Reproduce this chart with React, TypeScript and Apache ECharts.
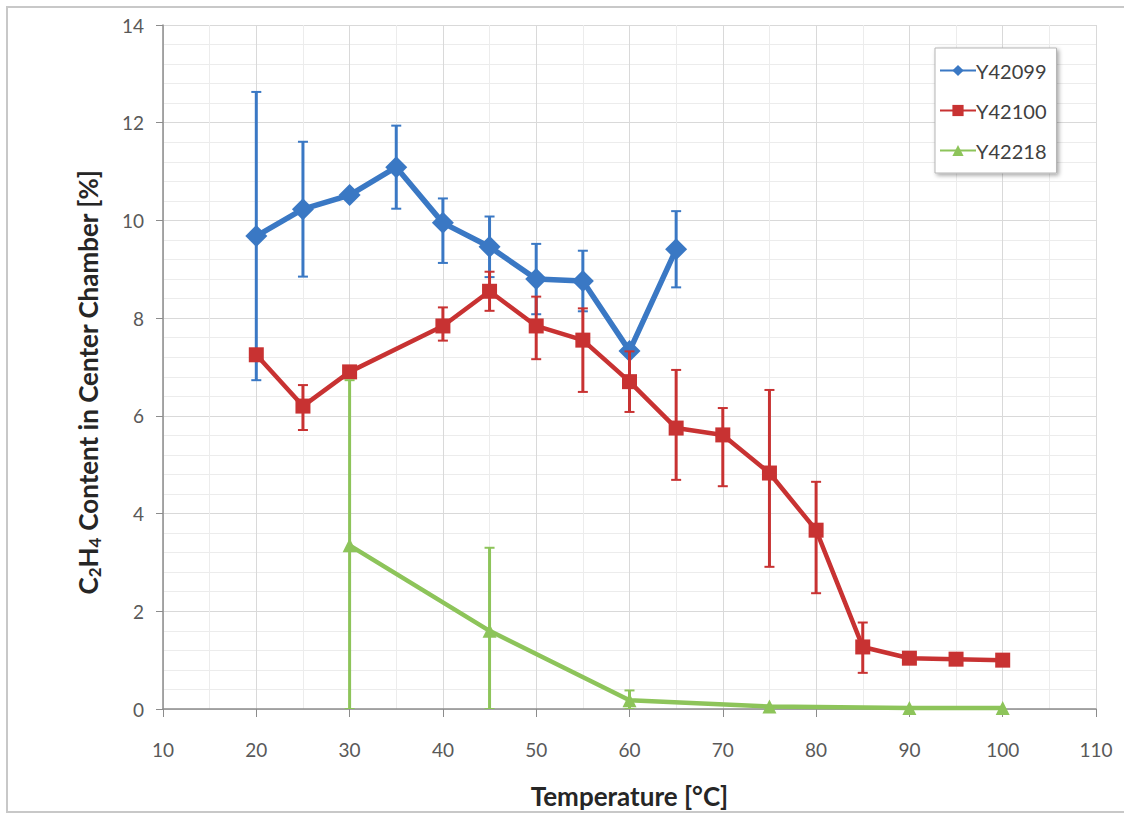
import React, { useEffect, useRef } from "react";
import * as echarts from "echarts";

// ---- data ----
const xTicks = [10, 20, 30, 40, 50, 60, 70, 80, 90, 100, 110];
const yTicks = [0, 2, 4, 6, 8, 10, 12, 14];

const tempBlue = [20, 25, 30, 35, 40, 45, 50, 55, 60, 65];
const valBlue = [9.68, 10.23, 10.52, 11.09, 9.95, 9.46, 8.8, 8.76, 7.33, 9.41];
const errBluePlus = [2.95, 1.38, 0, 0.85, 0.5, 0.62, 0.72, 0.62, 0, 0.78];
const errBlueMinus = [2.95, 1.38, 0, 0.85, 0.82, 0.62, 0.72, 0.62, 0, 0.78];

const tempRed = [20, 25, 30, 40, 45, 50, 55, 60, 65, 70, 75, 80, 85, 90, 95, 100];
const valRed = [7.25, 6.2, 6.9, 7.84, 8.55, 7.84, 7.55, 6.7, 5.75, 5.61, 4.83, 3.66, 1.27, 1.04, 1.02, 1.0];
const errRedPlus = [0, 0.43, 0, 0.38, 0.4, 0.6, 0.65, 0.62, 1.19, 0.55, 1.7, 0.99, 0.5, 0, 0, 0];
const errRedMinus = [0, 0.49, 0, 0.3, 0.4, 0.68, 1.06, 0.62, 1.06, 1.05, 1.92, 1.29, 0.53, 0, 0, 0];

const tempGreen = [30, 45, 60, 75, 90, 100];
const valGreen = [3.35, 1.6, 0.18, 0.05, 0.02, 0.02];
const errGreenPlus = [3.38, 1.7, 0.2, 0, 0, 0];
const errGreenMinus = [3.35, 1.6, 0.18, 0, 0, 0];

const names = ["Y42099", "Y42100", "Y42218"];
const colors = ["#3a78c4", "#c83232", "#8dc45a"];

const FONT = "Lato, 'Open Sans', sans-serif";

function errData(xs: number[], ys: number[], plus: number[], minus: number[]) {
  return xs.map((x, i) => [x, ys[i], plus[i], minus[i]]);
}

function errSeries(name: string, color: string, data: number[][], z: number) {
  return {
    type: "custom",
    name: name + " error",
    z,
    silent: true,
    clip: true,
    encode: { x: 0, y: 1 },
    itemStyle: { color },
    data,
    renderItem: (params: any, api: any) => {
      const x = api.value(0);
      const y = api.value(1);
      const p = api.value(2);
      const m = api.value(3);
      if (!p && !m) return { type: "group", children: [] };
      const top = api.coord([x, y + p]);
      const bot = api.coord([x, Math.max(0, y - m)]);
      const cap = 5;
      const style = { stroke: color, lineWidth: 3 };
      return {
        type: "group",
        children: [
          { type: "line", shape: { x1: top[0], y1: top[1], x2: bot[0], y2: bot[1] }, style },
          { type: "line", shape: { x1: top[0] - cap, y1: top[1], x2: top[0] + cap, y2: top[1] }, style: { stroke: color, lineWidth: 2 } },
          { type: "line", shape: { x1: bot[0] - cap, y1: bot[1], x2: bot[0] + cap, y2: bot[1] }, style: { stroke: color, lineWidth: 2 } },
        ],
      };
    },
  };
}

export default function App() {
  const ref = useRef<HTMLDivElement>(null);
  useEffect(() => {
    if (!ref.current) return;
    const chart = echarts.init(ref.current, undefined, { renderer: "svg" });
    const option: any = {
      animation: false,
      backgroundColor: "#ffffff",
      textStyle: { fontFamily: FONT },
      graphic: [
        {
          type: "rect",
          shape: { x: 7, y: 7, width: 1130, height: 805 },
          style: { fill: "none", stroke: "#c8c8c8", lineWidth: 2 },
          silent: true,
          z: -10,
        },
      ],
      grid: { left: 163, right: 28, top: 25, bottom: 105, containLabel: false, outerBoundsMode: "none" },
      legend: {
        data: names,
        orient: "vertical",
        left: 935,
        top: 48,
        padding: [12, 10, 12, 4],
        itemWidth: 36,
        itemHeight: 14,
        itemGap: 19,
        backgroundColor: "#ffffff",
        borderColor: "#b5b5b5",
        borderWidth: 1,
        shadowColor: "rgba(0,0,0,0.35)",
        shadowBlur: 4,
        shadowOffsetX: 2,
        shadowOffsetY: 2,
        textStyle: { color: "#404040", fontSize: 20, lineHeight: 21, fontFamily: FONT, padding: [0, 0, 0, -5] },
      },
      xAxis: {
        type: "value",
        min: xTicks[0],
        max: xTicks[xTicks.length - 1],
        interval: 10,
        name: "Temperature [°C]",
        nameLocation: "middle",
        nameGap: 74,
        nameTextStyle: { fontSize: 26, fontWeight: "bold", color: "#262626", fontFamily: FONT },
        axisLine: { show: true, lineStyle: { color: "#8c8c8c", width: 1.5 } },
        axisTick: { show: true, length: 8, lineStyle: { color: "#8c8c8c" } },
        axisLabel: { color: "#595959", fontSize: 19, margin: 31, fontFamily: FONT },
        splitLine: { show: true, lineStyle: { color: "#d9d9d9", width: 1 } },
        minorTick: { show: false, splitNumber: 2 },
        minorSplitLine: { show: true, lineStyle: { color: "#ececec", width: 1 } },
      },
      yAxis: {
        type: "value",
        min: yTicks[0],
        max: yTicks[yTicks.length - 1],
        interval: 2,
        name: "{n|C}{s|2}{n|H}{s|4}{n| Content in Center Chamber [%]}",
        nameLocation: "middle",
        nameGap: 60,
        nameTextStyle: {
          color: "#262626",
          padding: [0, 30, 0, 0],
          rich: {
            n: { fontSize: 26, fontWeight: "bold", color: "#262626", fontFamily: FONT, lineHeight: 30, verticalAlign: "middle" },
            s: { fontSize: 17, fontWeight: "bold", color: "#262626", fontFamily: FONT, lineHeight: 17, verticalAlign: "bottom" },
          },
        },
        axisLine: { show: true, lineStyle: { color: "#8c8c8c", width: 1.5 } },
        axisTick: { show: true, length: 7, lineStyle: { color: "#8c8c8c" } },
        axisLabel: { color: "#595959", fontSize: 19, margin: 19, fontFamily: FONT },
        splitLine: { show: true, lineStyle: { color: "#d9d9d9", width: 1 } },
        minorTick: { show: false, splitNumber: 5 },
        minorSplitLine: { show: true, lineStyle: { color: "#ececec", width: 1 } },
      },
      series: [
        errSeries(names[0], colors[0], errData(tempBlue, valBlue, errBluePlus, errBlueMinus), 2),
        {
          type: "line",
          name: names[0],
          data: tempBlue.map((x, i) => [x, valBlue[i]]),
          symbol: "diamond",
          symbolSize: 22,
          z: 3,
          lineStyle: { color: colors[0], width: 5.5 },
          itemStyle: { color: colors[0] },
        },
        errSeries(names[1], colors[1], errData(tempRed, valRed, errRedPlus, errRedMinus), 4),
        {
          type: "line",
          name: names[1],
          data: tempRed.map((x, i) => [x, valRed[i]]),
          symbol: "rect",
          symbolSize: 15,
          z: 5,
          lineStyle: { color: colors[1], width: 4.5 },
          itemStyle: { color: colors[1] },
        },
        errSeries(names[2], colors[2], errData(tempGreen, valGreen, errGreenPlus, errGreenMinus), 6),
        {
          type: "line",
          name: names[2],
          data: tempGreen.map((x, i) => [x, valGreen[i]]),
          symbol: "triangle",
          symbolSize: 14,
          z: 7,
          lineStyle: { color: colors[2], width: 4.5 },
          itemStyle: { color: colors[2] },
        },
      ],
    };
    chart.setOption(option);
    return () => chart.dispose();
  }, []);
  return (
    <div
      ref={ref}
      style={{ position: "absolute", left: 0, top: 0, width: 1124, height: 814 }}
    />
  );
}
